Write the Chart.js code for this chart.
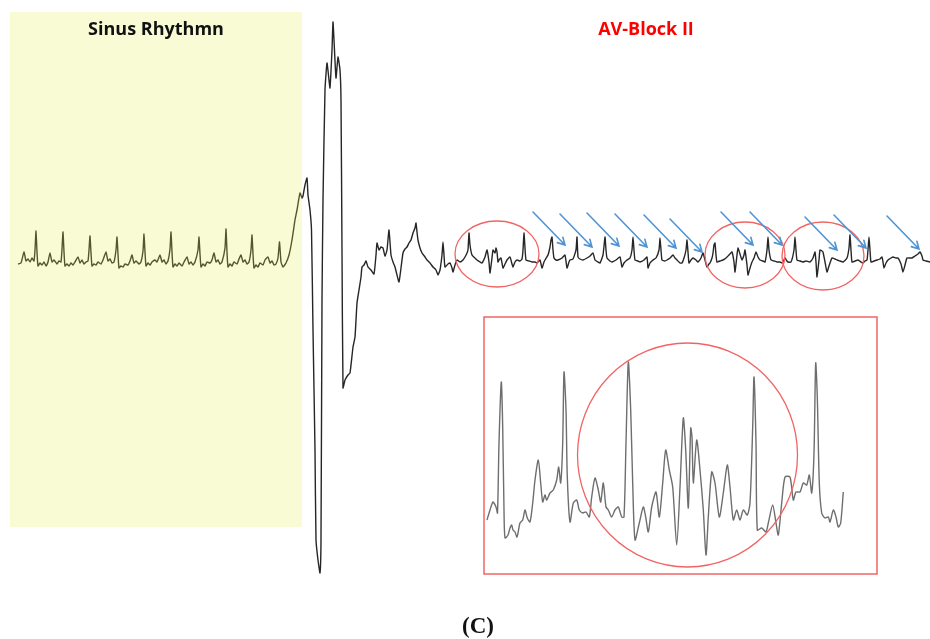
<!DOCTYPE html>
<html>
<head>
<meta charset="utf-8">
<title>ECG - Sinus Rhythm / AV-Block II</title>
<script src="https://cdn.jsdelivr.net/npm/chart.js@4.4.0/dist/chart.umd.min.js"></script>
<style>
  html, body { margin: 0; padding: 0; background: #ffffff; }
  #wrap { width: 930px; height: 639px; position: relative; }
</style>
</head>
<body>
<div id="wrap"><canvas id="ecg"></canvas></div>
<script>
// ---- trace data (x = time units, y = amplitude units, baseline 0) ----

// sinus rhythm part
const sinusX = [18,21,24,26,28,30,32,34,35,36,37,38,40,42,44,46,48,50,52,54,57,59,61,62,63,64,65,67,69,71,73,75,78,80,82,84,86,88,89,90,91,92,94,96,98,101,103,106,108,110,112,114,116,117,118,119,121,123,125,128,130,132,134,136,139,141,143,144,145,146,148,150,152,155,157,160,162,164,166,168,170,171,172,173,175,177,179,182,184,187,189,191,193,195,198,199,200,201,203,205,207,210,212,214,216,218,220,222,225,226,227,228,230,232,234,237,239,241,243,245,247,249,251,252,253,254,256,258,260,263,265,268,270,272,274,276,278,279.5,281];
const sinusY = [-1,0,11,2,4,1,5,2,13,32,11,-3,0,-2,1,-3,1,10,1,3,-1,2,1,14,31,11,-3,-1,-3,0,-2,1,6,0,3,-1,1,2,13,27,10,-3,-1,-2,1,-1,3,11,2,4,0,1,13,26,9,-5,-3,-4,-1,-2,2,8,0,2,-1,1,12,29,11,-3,0,-2,1,3,1,8,1,3,-1,2,14,31,11,-4,-1,-3,0,-3,1,6,-1,1,-2,1,13,26,9,-4,-1,-3,1,0,3,10,1,3,-1,1,15,34,11,-4,-1,-3,1,-1,4,8,1,3,-1,1,13,28,9,-5,-2,-4,0,-2,3,6,0,2,-2,-1,5,21,1];

// transient / artefact
const transX = [283,286,289,292,295,297,300,302,303,305,307,308,310,311.5,313,315,316,318,320,321,322,323,325,327,329,330,332,333,334,336,338,340,341,342,343,345,348,350,353,355,357,359,361,362,364,366,368,371,374,376,377,379,381,383,385,387,389,391,393,395,397,399,401,403,405,407,409,411,413,415,416,417,418,420,422,425,427,430,433,436,438,440,442];
const transY = [-4,0,8,23,43,53,70,65,67,78,85,68,53,33,-67,-187,-277,-297,-310,-277,-37,63,173,200,183,175,213,241,223,185,206,193,163,13,-125,-117,-112,-110,-84,-74,-40,-27,-14,-4,-2,2,-4,-7,-11,8,20,13,16,15,7,13,33,8,1,-4,-12,-19,-5,10,14,16,20,23,30,35,40,31,23,15,10,6,3,0,-4,-7,-12,-7,8];

// AV-block II part
const blockX = [443,444,445,448,450,452,453,455,457,460,463,465,467,468,469,470,472,475,477,480,482,485,487,489,490,492,493,495,496,497,498,499,501,503,505,507,510,512,513,515,517,520,522,523,524,525,526,529,532,535,537,540,542,544,545,548,550,551,552,553,554,556,558,562,565,567,569,570,573,576,577,578,580,583,587,590,593,595,598,600,603,605,606,607,610,612,616,620,622,624,627,630,632,633,634,635,638,640,644,647,648,650,653,656,659,660,661,662,665,667,670,673,675,677,680,682,684,686,687,688,689,691,693,696,698,701,703,705,707,709,710,712,713,714,715,716,717,720,723,726,729,732,734,735,737,738,740,742,744,745,747,748,750,752,754,756,758,760,763,765,767,768,769,771,774,777,780,782,784,785,787,788,791,794,795,796,797,800,803,806,810,813,815,816,817,819,820,822,823,825,827,829,832,835,837,840,843,847,849,850,851,852,855,858,861,863,865,867,868,869,870,871,874,877,880,882,883,884,886,888,891,893,896,898,901,903,905,907,910,912,915,918,920,922,923,926,930];
const blockY = [21,8,-4,-1,0,-5,-9,-2,3,1,3,6,10,13,30,18,8,5,3,1,0,6,13,1,-10,5,13,10,15,11,1,3,5,-5,-1,3,6,-1,-4,1,3,2,4,13,30,15,3,2,1,1,0,3,-5,1,3,8,16,23,26,13,5,3,3,5,8,-5,1,3,4,13,26,6,4,3,5,7,10,3,1,0,8,26,13,5,2,1,3,6,-4,0,3,5,13,26,13,3,2,1,3,6,-5,0,3,5,13,25,13,3,2,3,5,8,5,3,0,0,5,13,23,11,0,3,5,3,1,5,10,3,-4,-1,0,5,10,18,20,8,1,2,3,5,8,11,1,-9,8,15,9,3,8,13,-2,-12,-5,1,5,11,6,3,2,1,13,26,13,3,2,1,1,0,3,5,2,1,1,13,26,13,3,2,1,2,1,5,11,1,-14,3,13,12,11,1,-9,-3,5,4,3,2,1,5,15,28,13,1,2,3,1,0,2,3,13,26,13,1,2,3,4,6,1,-5,0,3,5,6,5,5,-1,-9,-2,5,5,5,7,9,11,7,3,2,1];

// zoomed inset (own time / amplitude units)
const insetX = [0,3,6,9,10.5,12,14.3,15.7,17,18,21,23,24.7,26,28,30,33,35.7,38,40.3,43,45.7,48,51.3,53.7,55.7,58,59.7,63,66.3,69.7,71.7,73.7,75.7,77,79,80.3,83,86.3,89.7,92.3,95.7,99,102.3,104.7,108,111.3,113.7,116.3,119,121.3,124.7,128,131.3,134.7,137,139,141.3,143.7,145.7,148,152.3,156.3,158.7,161.3,164.7,169,172.3,175.7,178.7,182.3,185.7,189.7,193,196.3,198.7,201.3,203.7,205,206.3,209.7,213,216.3,219,221.3,224.7,228,232.3,236.3,240.3,243,246.3,249.7,253,256.3,260.3,263,265.7,267,269,270.3,274.7,279,281.3,285.7,289,291.3,294.7,298,303,306.3,309,313,316.3,319.7,322.3,324.7,327,328.7,330.3,332.3,334.7,338,341.3,343,346.3,349,351.3,353.7,356.3];
const insetY = [0,10,18,13,7,77,138,93,10,-18,-15,-8,-5,-10,-12,-17,-3,0,10,2,-2,17,40,60,37,18,25,20,27,30,40,53,37,77,148,110,43,-2,17,20,10,7,8,3,23,42,30,18,37,13,10,3,10,13,3,3,77,158,110,37,-20,-3,13,3,-12,13,28,3,37,70,50,33,-25,33,102,70,12,92,83,37,80,50,10,-35,3,48,37,3,27,55,33,0,10,0,10,5,17,93,143,77,-10,-8,-12,-3,15,-3,-15,17,43,43,20,28,28,37,35,45,27,67,157,123,37,7,2,3,-2,10,3,-7,-3,28];

// ---- annotations (in data units of the axes they belong to) ----
const panelLabels = ['Sinus Rhythmn', 'AV-Block II'];
const figureLabel = '(C)';
const sinusPanel = { x0: 10, x1: 302, y0: 251, y1: -264 };
const beatRings = [
  { x: 497, y: 9, rx: 42, ry: 33 },
  { x: 745, y: 8, rx: 40, ry: 33 },
  { x: 823, y: 7, rx: 41, ry: 34 }
];
const blockedP = [[565,18],[592,16],[619,17],[647,16],[676,15],[702,11],[753,18],[782,18],[837,13],[866,15],[919,14]];
const insetFrame = { x0: -3, x1: 390, y0: 203, y1: -54 };
const insetRing = { x: 200.5, y: 65, rx: 110, ry: 112 };

const toPoints = (xs, ys) => xs.map((x, i) => ({ x: x, y: ys[i] }));
const mainTrace = toPoints(sinusX.concat(transX, blockX), sinusY.concat(transY, blockY));
const insetTrace = toPoints(insetX, insetY);

const OLIVE = '#55552e';
const TRACE = '#262626';
const RED = '#f26464';
const BLUE = '#4f94d4';

function ellipse(ctx, cx, cy, rx, ry) {
    ctx.beginPath();
    ctx.ellipse(cx, cy, rx, ry, 0, 0, Math.PI * 2);
    ctx.stroke();
}

// background panel + annotations
const decorPlugin = {
    id: 'decor',
    beforeDatasetsDraw(chart) {
        const ctx = chart.ctx;
        const x = chart.scales.x, y = chart.scales.y;
        ctx.save();
        ctx.fillStyle = '#f8fbd3';
        const px0 = x.getPixelForValue(sinusPanel.x0), px1 = x.getPixelForValue(sinusPanel.x1);
        const py0 = y.getPixelForValue(sinusPanel.y0), py1 = y.getPixelForValue(sinusPanel.y1);
        ctx.fillRect(px0, py0, px1 - px0, py1 - py0);

        // panel titles
        ctx.textAlign = 'center';
        ctx.textBaseline = 'middle';
        ctx.font = 'bold 18px "Open Sans", sans-serif';
        ctx.fillStyle = '#111111';
        ctx.fillText(panelLabels[0], (px0 + px1) / 2, 30);
        ctx.fillStyle = '#ff0000';
        ctx.fillText(panelLabels[1], x.getPixelForValue(646), 30);

        // figure label
        ctx.fillStyle = '#111111';
        ctx.font = 'bold 23px "Liberation Serif", serif';
        ctx.fillText(figureLabel, x.getPixelForValue(478), 627);
        ctx.restore();
    },
    afterDatasetsDraw(chart) {
        const ctx = chart.ctx;
        const x = chart.scales.x, y = chart.scales.y;
        const xi = chart.scales.xi, yi = chart.scales.yi;
        ctx.save();

        // rings around dropped beats
        ctx.strokeStyle = RED;
        ctx.lineWidth = 1.3;
        beatRings.forEach(r => {
            const cx = x.getPixelForValue(r.x), cy = y.getPixelForValue(r.y);
            ellipse(ctx, cx, cy, x.getPixelForValue(r.x + r.rx) - cx, cy - y.getPixelForValue(r.y + r.ry));
        });

        // inset frame and ring
        const fx0 = xi.getPixelForValue(insetFrame.x0), fx1 = xi.getPixelForValue(insetFrame.x1);
        const fy0 = yi.getPixelForValue(insetFrame.y0), fy1 = yi.getPixelForValue(insetFrame.y1);
        ctx.lineWidth = 1.5;
        ctx.strokeRect(fx0, fy0, fx1 - fx0, fy1 - fy0);
        const icx = xi.getPixelForValue(insetRing.x), icy = yi.getPixelForValue(insetRing.y);
        ctx.lineWidth = 1.3;
        ellipse(ctx, icx, icy, xi.getPixelForValue(insetRing.x + insetRing.rx) - icx,
                icy - yi.getPixelForValue(insetRing.y + insetRing.ry));

        // arrows at the non-conducted P waves
        ctx.strokeStyle = BLUE;
        ctx.lineWidth = 1.6;
        ctx.lineCap = 'round';
        blockedP.forEach(p => {
            const tx = x.getPixelForValue(p[0]), ty = y.getPixelForValue(p[1]);
            const sx = tx - 32, sy = ty - 33;
            const ang = Math.atan2(ty - sy, tx - sx);
            ctx.beginPath();
            ctx.moveTo(sx, sy);
            ctx.lineTo(tx, ty);
            ctx.moveTo(tx - 8 * Math.cos(ang - 0.5), ty - 8 * Math.sin(ang - 0.5));
            ctx.lineTo(tx, ty);
            ctx.lineTo(tx - 8 * Math.cos(ang + 0.5), ty - 8 * Math.sin(ang + 0.5));
            ctx.stroke();
        });
        ctx.restore();
    }
};

const ecgChart = new Chart(document.getElementById('ecg').getContext('2d'), {
    type: 'line',
    data: {
        datasets: [
            {
                label: 'ECG',
                data: mainTrace,
                xAxisID: 'x',
                yAxisID: 'y',
                borderColor: TRACE,
                borderWidth: 1.4,
                pointRadius: 0,
                tension: 0.15,
                segment: {
                    borderColor: c => c.p0.parsed.x < sinusPanel.x1 ? OLIVE : TRACE
                }
            },
            {
                label: 'ECG (zoom)',
                data: insetTrace,
                xAxisID: 'xi',
                yAxisID: 'yi',
                borderColor: '#6e6e6e',
                borderWidth: 1.4,
                pointRadius: 0,
                tension: 0.25
            }
        ]
    },
    options: {
        responsive: true,
        maintainAspectRatio: false,
        animation: false,
        layout: { padding: 0 },
        plugins: {
            legend: { display: false },
            tooltip: { enabled: false }
        },
        scales: {
            x: { type: 'linear', display: false, min: 0, max: 930 },
            y: { type: 'linear', display: false, min: -376, max: 263 },
            xi: { type: 'linear', display: false, min: -487, max: 443 },
            yi: { type: 'linear', display: false, min: -119, max: 520 }
        }
    },
    plugins: [decorPlugin]
});
</script>
</body>
</html>
